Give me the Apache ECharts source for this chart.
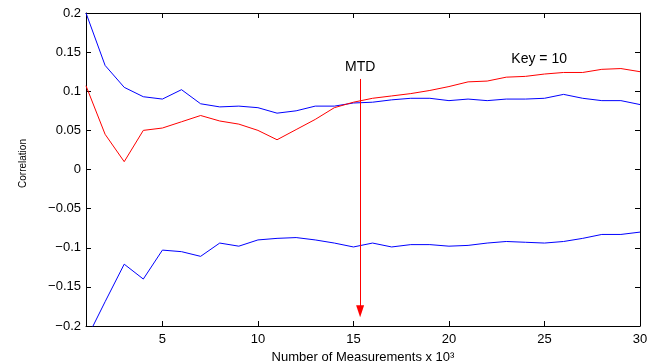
<!DOCTYPE html>
<html>
<head>
<meta charset="utf-8">
<script src="https://cdn.jsdelivr.net/npm/echarts@6/dist/echarts.min.js"></script>
<style>
  html, body {margin: 0; padding: 0; background: #fff;}
  #chart {width: 659px; height: 362px;}
</style>
</head>
<body>
<div id="chart"></div>
<script>
const measurements = [1, 2, 3, 4, 5, 6, 7, 8, 9, 10, 11, 12, 13, 14, 15,
  16, 17, 18, 19, 20, 21, 22, 23, 24, 25, 26, 27, 28, 29, 30];
const upperBlue = [0.200, 0.133, 0.105, 0.093, 0.090, 0.102, 0.084, 0.080, 0.081, 0.079,
  0.072, 0.075, 0.081, 0.081, 0.085, 0.086, 0.089, 0.091, 0.091, 0.088,
  0.090, 0.088, 0.090, 0.090, 0.091, 0.096, 0.091, 0.088, 0.088, 0.083];
const keyRed = [0.107, 0.045, 0.010, 0.050, 0.053, 0.061, 0.069, 0.062, 0.058, 0.050,
  0.038, 0.051, 0.064, 0.079, 0.086, 0.091, 0.094, 0.097, 0.101, 0.106,
  0.112, 0.113, 0.118, 0.119, 0.122, 0.124, 0.124, 0.128, 0.129, 0.125];
const lowerBlue = [-0.218, -0.169, -0.121, -0.140, -0.103, -0.105, -0.111, -0.094, -0.098, -0.090,
  -0.088, -0.087, -0.090, -0.094, -0.099, -0.094, -0.099, -0.096, -0.096, -0.098,
  -0.097, -0.094, -0.092, -0.093, -0.094, -0.092, -0.088, -0.083, -0.083, -0.080];
const xTicks = [5, 10, 15, 20, 25, 30];

// annotation: MTD arrow and the key label
const mtdX = 15.35;
const mtdTop = 0.1157;
const mtdTip = -0.181;
const mtdLabel = [15.35, 0.131];
const keyLabel = [24.72, 0.141];

const font = 'Liberation Sans, Arial, Helvetica, sans-serif';
const pair = (ys) => ys.map((y, i) => [measurements[i], y]);

const myChart = echarts.init(document.getElementById('chart'));

const boxAxis = {
  axisLine: {show: true, onZero: false, lineStyle: {color: '#000', width: 1}},
  axisTick: {show: true, inside: true, length: 5, lineStyle: {color: '#000'}},
  splitLine: {show: false}
};

myChart.setOption({
  animation: false,
  backgroundColor: '#fff',
  grid: {left: 86, right: 19, top: 13, bottom: 36, outerBoundsMode: 'none'},
  xAxis: [
    {
      ...boxAxis,
      type: 'value', min: 1, max: 30, position: 'bottom',
      axisTick: {...boxAxis.axisTick, customValues: xTicks},
      axisLabel: {customValues: xTicks, color: '#000', fontSize: 13, fontFamily: font, margin: 7},
      name: 'Number of Measurements x 10³',
      nameLocation: 'middle', nameGap: 20,
      nameTextStyle: {color: '#000', fontSize: 13, fontFamily: font}
    },
    {
      ...boxAxis,
      type: 'value', min: 1, max: 30, position: 'top',
      axisTick: {...boxAxis.axisTick, customValues: xTicks},
      axisLabel: {show: false}
    }
  ],
  yAxis: [
    {
      ...boxAxis,
      type: 'value', min: -0.2, max: 0.2, interval: 0.05, position: 'left',
      axisLabel: {
        color: '#000', fontSize: 13, fontFamily: font, margin: 5,
        formatter: v => String(+v.toFixed(2)).replace('-', '\u2212')
      },
      name: 'Correlation',
      nameLocation: 'middle', nameGap: 58,
      nameTextStyle: {color: '#000', fontSize: 10, fontFamily: font, padding: [0, 0, 0, 12]}
    },
    {
      ...boxAxis,
      type: 'value', min: -0.2, max: 0.2, interval: 0.05, position: 'right',
      axisLabel: {show: false}
    }
  ],
  series: [
    {name: 'upper', data: pair(upperBlue), color: '#0000ff'},
    {
      name: 'key', data: pair(keyRed), color: '#ff0000',
      markLine: {
        silent: true,
        symbol: ['none', 'triangle'],
        symbolSize: [8, 12],
        label: {show: false},
        lineStyle: {color: '#ff0000', width: 1, type: 'solid'},
        data: [[{coord: [mtdX, mtdTop]}, {coord: [mtdX, mtdTip]}]]
      },
      markPoint: {
        silent: true,
        symbol: 'circle',
        symbolSize: 0,
        data: [
          {coord: mtdLabel, label: {formatter: 'MTD'}},
          {coord: keyLabel, label: {formatter: 'Key = 10'}}
        ],
        label: {show: true, position: 'inside', color: '#000', fontSize: 14, fontFamily: font}
      }
    },
    {name: 'lower', data: pair(lowerBlue), color: '#0000ff'}
  ].map(obj => ({
    ...obj,
    type: 'line',
    xAxisIndex: 0,
    yAxisIndex: 0,
    symbol: 'none',
    clip: true,
    lineStyle: {width: 1, color: obj.color}
  }))
});
</script>
</body>
</html>
